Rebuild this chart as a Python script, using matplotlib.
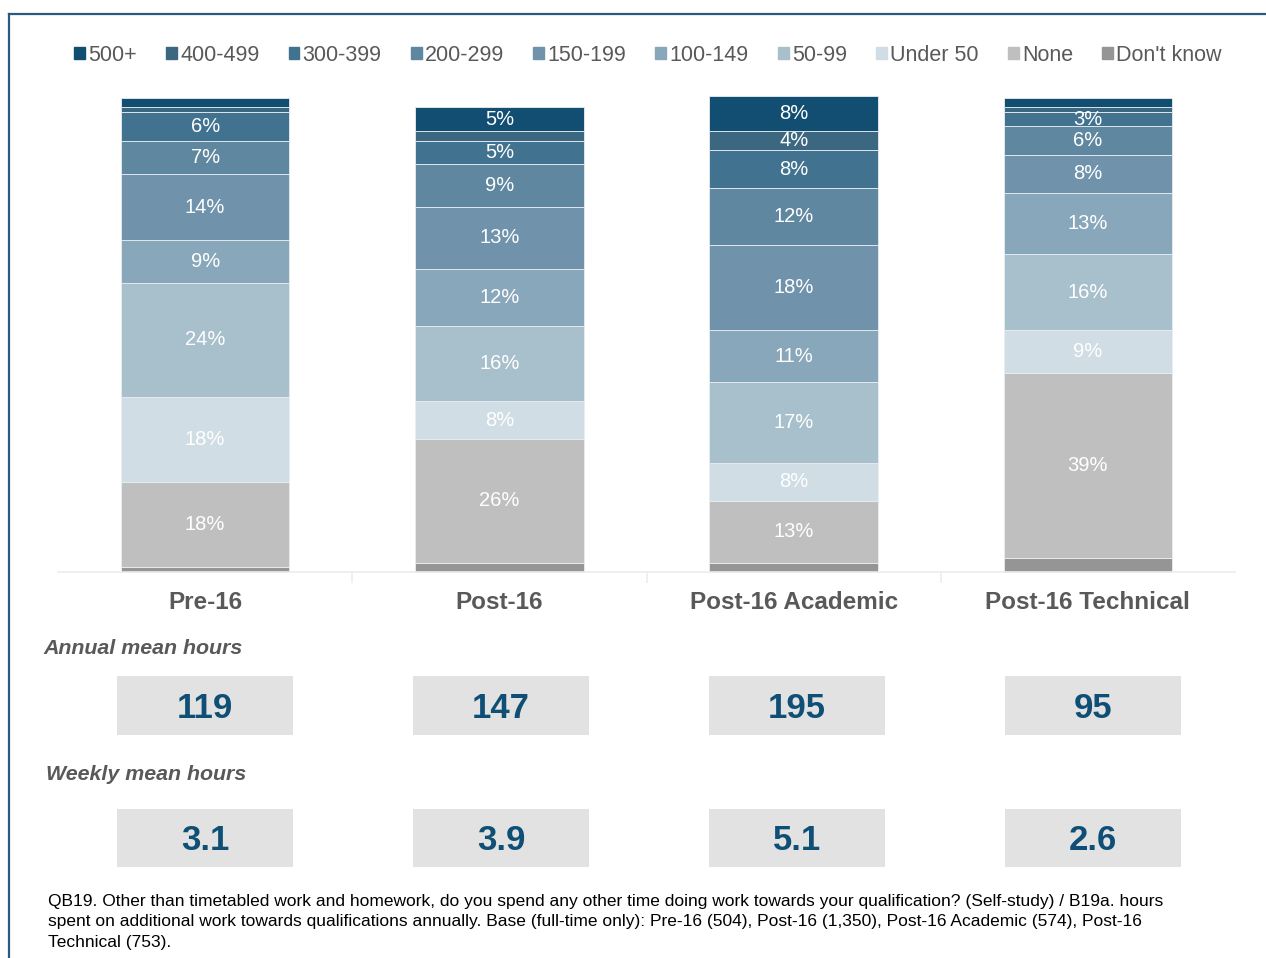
import matplotlib
matplotlib.use('agg')
import matplotlib.pyplot as plt
from matplotlib.patches import Rectangle
from matplotlib.lines import Line2D
import numpy as np

plt.rcParams['font.family'] = ['Liberation Sans', 'DejaVu Sans']

######## data ########
groups = ['Pre-16', 'Post-16', 'Post-16 Academic', 'Post-16 Technical']
bands = ['500+', '400-499', '300-399', '200-299', '150-199', '100-149',
         '50-99', 'Under 50', 'None', "Don't know"]

# percentages, one list per band (same order as groups)
p_500 = [2, 5, 7.5, 2]
p_400 = [1, 2, 4, 1]
p_300 = [6, 5, 8, 3]
p_200 = [7, 9, 12, 6]
p_150 = [14, 13, 18, 8]
p_100 = [9, 12, 11, 13]
p_50 = [24, 16, 17, 16]
p_u50 = [18, 8, 8, 9]
p_none = [18, 26, 13, 39]
p_dk = [1, 2, 2, 3]

annual_mean = [119, 147, 195, 95]
weekly_mean = [3.1, 3.9, 5.1, 2.6]

band_colors = ['#114e72', '#3b6781', '#41728f', '#5f879f', '#7093ab',
               '#89a7ba', '#a8bfcc', '#d1dde4', '#bfbfbf', '#959595']

note = ("QB19. Other than timetabled work and homework, do you spend any other time doing work towards your qualification? (Self-study) / B19a. hours\n"
        "spent on additional work towards qualifications annually. Base (full-time only): Pre-16 (504), Post-16 (1,350), Post-16 Academic (574), Post-16\n"
        "Technical (753).")

grey_txt = '#595959'
num_col = '#0f4f75'

fig = plt.figure(figsize=(12.66, 9.58), dpi=100)
W, H = 1266.0, 958.0

def fbox(x0, y0, x1, y1):
    # pixel box (top-left origin) -> figure rect
    return [x0 / W, 1 - y1 / H, (x1 - x0) / W, (y1 - y0) / H]

######## stacked bars ########
ax = fig.add_axes(fbox(58, 98, 1235, 572))
x = np.arange(len(groups))
stack = [p_dk, p_none, p_u50, p_50, p_100, p_150, p_200, p_300, p_400, p_500]
stack_names = bands[::-1]
stack_cols = band_colors[::-1]
bottom = np.zeros(len(groups))
for name, vals, col in zip(stack_names, stack, stack_cols):
    vals = np.array(vals, dtype=float)
    ax.bar(x, vals, 0.572, bottom=bottom, color=col, edgecolor='#e8eef2',
           linewidth=0.6, clip_on=False, zorder=2)
    if name != "Don't know":
        for xi, b, v in zip(x, bottom, vals):
            if v >= 3:
                ax.text(xi, b + v / 2, '%d%%' % int(v + 0.5), ha='center',
                        va='center', color='white', fontsize=14.5, zorder=3)
    bottom += vals

ax.set_xlim(-0.5, 3.5)
ax.set_ylim(0, 100)
for s in ['top', 'right', 'left']:
    ax.spines[s].set_visible(False)
ax.spines['bottom'].set_color('#ececec')
ax.spines['bottom'].set_linewidth(1.2)
ax.set_yticks([])
ax.set_xticks([0.5, 1.5, 2.5], minor=False)
ax.set_xticklabels([])
ax.tick_params(axis='x', length=8, color='#ececec', width=1.2)
for xi, g in zip(x, groups):
    ax.text(xi, -6.4, g, ha='center', va='center', fontsize=17.5,
            fontweight='bold', color=grey_txt)

# legend (handles in display order)
handles = [Rectangle((0, 0), 1, 1, color=c) for c in band_colors]
fig.legend(handles, bands, loc='center', bbox_to_anchor=(648 / W, 1 - 55.5 / H),
           ncol=10, frameon=False, fontsize=15.5, handlelength=0.5,
           handleheight=0.5, handletextpad=0.15, columnspacing=1.36,
           labelcolor=grey_txt, borderpad=0)

######## mean hours rows ########
def stat_row(box, vals, fmt):
    a = fig.add_axes(fbox(*box))
    a.bar(x, [1] * len(vals), 0.595, color='#e2e2e2', edgecolor='none')
    for xi, v in zip(x, vals):
        a.text(xi, 0.45, fmt % v, ha='center', va='center', fontsize=25,
               fontweight='bold', color=num_col)
    a.set_xlim(-0.5, 3.5)
    a.set_ylim(0, 1)
    a.axis('off')
    return a

stat_row((57, 676, 1241, 735), annual_mean, '%d')
stat_row((57, 809, 1241, 867), weekly_mean, '%.1f')

fig.text(43 / W, 1 - 648 / H, 'Annual mean hours', fontsize=15.4,
         fontweight='bold', fontstyle='italic', color=grey_txt, va='center')
fig.text(46 / W, 1 - 775 / H, 'Weekly mean hours', fontsize=15.4,
         fontweight='bold', fontstyle='italic', color=grey_txt, va='center')

fig.text(48 / W, 1 - 894 / H, note, fontsize=12.5, color='black', va='top',
         linespacing=1.45)

# frame lines (top and left)
fig.add_artist(Line2D([9 / W, 1], [1 - 14 / H, 1 - 14 / H], color='#2a5b7f',
                      linewidth=1.6))
fig.add_artist(Line2D([9 / W, 9 / W], [0, 1 - 14 / H], color='#2a5b7f',
                      linewidth=1.6))

fig.savefig('out.png', dpi=100)
